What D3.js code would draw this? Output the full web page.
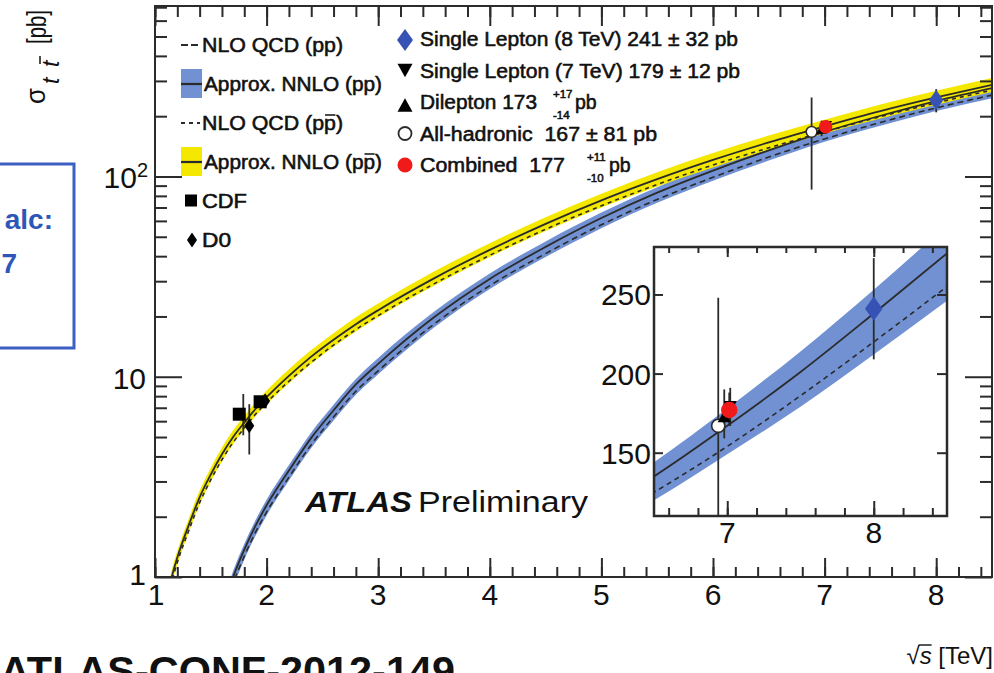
<!DOCTYPE html>
<html><head><meta charset="utf-8">
<script src="https://cdn.jsdelivr.net/npm/d3@7"></script>
<style>
html,body{margin:0;padding:0;background:#fff;overflow:hidden}
svg{display:block;font-family:"Liberation Sans",Arial,Helvetica,sans-serif}
.heavy{stroke:#111;stroke-width:0.55px}
</style></head><body>
<svg id="chart" width="994" height="673"></svg>
<script>
// ---- theory predictions: sqrt(s) in TeV, cross sections in pb ----
const energiesPPbar = [1.1, 1.15, 1.2, 1.3, 1.4, 1.5, 1.6, 1.7, 1.8, 1.9, 2.0, 2.2, 2.4, 2.6, 2.8, 3.0, 3.5, 4.0, 4.5, 5.0, 5.5, 6.0, 6.5, 7.0, 7.5, 8.0, 8.5];
const nnloPPbar     = [0.72, 1.0, 1.25, 1.8, 2.5, 3.25, 4.1, 5.0, 5.9, 6.9, 7.9, 10.1, 12.6, 15.3, 18.3, 21.5, 31, 43, 58, 76, 97, 121, 148, 178, 212, 248, 287];
const nnloPPbarUp   = [0.78, 1.08, 1.35, 1.94, 2.70, 3.51, 4.43, 5.40, 6.37, 7.45, 8.53, 10.9, 13.6, 16.5, 19.8, 23.2, 33.5, 46.4, 62.6, 82.1, 105, 131, 160, 192, 229, 268, 310];
const nnloPPbarDown = [0.66, 0.92, 1.15, 1.66, 2.30, 2.99, 3.77, 4.60, 5.43, 6.35, 7.27, 9.29, 11.6, 14.1, 16.8, 19.8, 28.5, 39.6, 53.4, 69.9, 89.2, 111, 136, 164, 195, 228, 264];
const nloPPbar      = [0.68, 0.94, 1.18, 1.69, 2.35, 3.06, 3.85, 4.70, 5.55, 6.49, 7.43, 9.49, 11.8, 14.4, 17.2, 20.2, 29.1, 40.4, 54.5, 71.4, 91.2, 114, 139, 167, 199, 233, 270];

const energiesPP = [1.6, 1.7, 1.8, 1.9, 2.0, 2.2, 2.4, 2.6, 2.8, 3.0, 3.5, 4.0, 4.5, 5.0, 5.5, 6.0, 6.5, 7.0, 7.5, 8.0, 8.5];
const nnloPP     = [0.68, 1.0, 1.37, 1.8, 2.28, 3.4, 4.95, 6.8, 9.15, 11.6, 19.8, 30.8, 44.5, 62, 83, 107, 135, 167, 201, 238, 276];
const nnloPPUp   = [0.72, 1.07, 1.46, 1.92, 2.43, 3.62, 5.27, 7.24, 9.74, 12.4, 21.1, 32.8, 47.4, 66.0, 88.4, 114, 144, 178, 214, 253, 294];
const nnloPPDown = [0.61, 0.89, 1.22, 1.60, 2.03, 3.03, 4.41, 6.05, 8.14, 10.3, 17.6, 27.4, 39.6, 55.2, 73.9, 95.2, 120, 149, 179, 212, 246];
const nloPP      = [0.63, 0.93, 1.27, 1.67, 2.11, 3.15, 4.58, 6.29, 8.46, 10.7, 18.3, 28.5, 41.2, 57.4, 76.8, 99.0, 125, 154, 186, 220, 255];

// ---- Tevatron measurements ----
const tevatronExperiments = ["CDF", "D0", "CDF", "D0"];
const tevatronEnergies    = [1.8, 1.8, 1.96, 1.96];
const tevatronXsec        = [6.5, 5.69, 7.5, 7.56];
const tevatronErrUp       = [1.7, 1.6, 0.48, 0.63];
const tevatronErrDown     = [1.4, 1.6, 0.48, 0.56];

// ---- ATLAS measurements ----
const atlasChannels = ["Single Lepton (8 TeV)", "Single Lepton (7 TeV)", "Dilepton", "All-hadronic", "Combined"];
const atlasEnergies = [8, 7, 7, 7, 7];
const atlasXsec     = [241, 179, 173, 167, 177];
const atlasErrUp    = [32, 12, 17, 81, 11];
const atlasErrDown  = [32, 12, 14, 81, 10];

// ---- axis ticks ----
const xTicksMain  = [1, 2, 3, 4, 5, 6, 7, 8];
const yTicksMain  = [1, 10, 100];
const xTicksInset = [7, 8];
const yTicksInset = [150, 200, 250];

// ---------------------------------------------------------------
const BLUE = "#7191d2", YELLOW = "#f4e800", INK = "#2b2b2b";
const svg = d3.select("#chart");
svg.append("rect").attr("width", 994).attr("height", 673).attr("fill", "#fff");

const P = {left: 155, right: 992, top: 6, bottom: 577};
const x = d3.scaleLinear().domain([1, 8.5]).range([P.left, P.right]);
const y = d3.scaleLog().domain([1, 710]).range([P.bottom, P.top]);

const defs = svg.append("defs");
defs.append("clipPath").attr("id", "clipMain").append("rect")
  .attr("x", P.left).attr("y", P.top).attr("width", P.right - P.left).attr("height", P.bottom - P.top);

const ppbar = energiesPPbar.map((e, i) => ({e, c: nnloPPbar[i], hi: nnloPPbarUp[i], lo: nnloPPbarDown[i], nlo: nloPPbar[i]}));
const pp = energiesPP.map((e, i) => ({e, c: nnloPP[i], hi: nnloPPUp[i], lo: nnloPPDown[i], nlo: nloPP[i]}));

// ---- fragments of the surrounding page ----
svg.append("rect").attr("x", -10).attr("y", 164).attr("width", 84).attr("height", 184)
  .attr("fill", "none").attr("stroke", "#3c5fc4").attr("stroke-width", 3);
svg.append("text").attr("x", 53).attr("y", 229).attr("text-anchor", "end")
  .attr("font-size", 28).attr("font-weight", "bold").attr("fill", "#2e56b8").text("alc:");
svg.append("text").attr("x", 17).attr("y", 273).attr("text-anchor", "end")
  .attr("font-size", 28).attr("font-weight", "bold").attr("fill", "#2e56b8").text("7");
svg.append("text").attr("x", 0).attr("y", 685)
  .attr("font-size", 40).attr("font-weight", "bold").attr("fill", "#111")
  .attr("textLength", 455).attr("lengthAdjust", "spacingAndGlyphs").text("ATLAS-CONF-2012-149");

// ---- main plot ----
const gMain = svg.append("g").attr("clip-path", "url(#clipMain)");
const areaMain = d3.area().x(d => x(d.e)).y0(d => y(d.lo)).y1(d => y(d.hi)).curve(d3.curveMonotoneX);
const lineMain = key => d3.line().x(d => x(d.e)).y(d => y(d[key])).curve(d3.curveMonotoneX);

gMain.append("path").datum(pp).attr("d", areaMain).attr("fill", BLUE);
gMain.append("path").datum(ppbar).attr("d", areaMain).attr("fill", YELLOW);
gMain.append("path").datum(pp).attr("d", lineMain("nlo")).attr("fill", "none").attr("stroke", INK).attr("stroke-width", 1.6).attr("stroke-dasharray", "6,4");
gMain.append("path").datum(pp).attr("d", lineMain("c")).attr("fill", "none").attr("stroke", INK).attr("stroke-width", 1.8);
gMain.append("path").datum(ppbar).attr("d", lineMain("nlo")).attr("fill", "none").attr("stroke", INK).attr("stroke-width", 1.6).attr("stroke-dasharray", "4,4");
gMain.append("path").datum(ppbar).attr("d", lineMain("c")).attr("fill", "none").attr("stroke", INK).attr("stroke-width", 1.8);

// marker helpers
function diamond(g, cx, cy, w, h, fill) {
  g.append("path").attr("d", `M${cx},${cy - h / 2}L${cx + w / 2},${cy}L${cx},${cy + h / 2}L${cx - w / 2},${cy}Z`).attr("fill", fill);
}
function triangle(g, cx, cy, s, down, fill) {
  const h = s * 0.9, k = down ? -1 : 1;
  g.append("path").attr("d", `M${cx},${cy - k * h / 2}L${cx + s / 2},${cy + k * h / 2}L${cx - s / 2},${cy + k * h / 2}Z`).attr("fill", fill);
}
function errBar(g, px, y0, y1) {
  g.append("line").attr("x1", px).attr("x2", px).attr("y1", y0).attr("y2", y1).attr("stroke", INK).attr("stroke-width", 1.8);
}

// Tevatron points (small horizontal offsets keep overlapping points apart)
const tevShift = [-5, 5, -2, 3];
tevatronEnergies.forEach((e, i) => {
  const px = x(e) + tevShift[i];
  errBar(gMain, px + (i === 0 ? 4 : 0), y(tevatronXsec[i] + tevatronErrUp[i]), y(tevatronXsec[i] - tevatronErrDown[i]));
});
tevatronEnergies.forEach((e, i) => {
  const px = x(e) + tevShift[i], py = y(tevatronXsec[i]);
  if (tevatronExperiments[i] === "CDF") gMain.append("rect").attr("x", px - 6.5).attr("y", py - 6.5).attr("width", 13).attr("height", 13).attr("fill", "#000");
  else diamond(gMain, px, py, 10, 15, "#000");
});

// ATLAS points
const atlasShiftMain = [0, 2, -3, -13, 1];
function drawAtlas(g, sx, sy, shift, scaleK) {
  atlasEnergies.forEach((e, i) => {
    errBar(g, sx(e) + shift[i], sy(atlasXsec[i] + atlasErrUp[i]), sy(atlasXsec[i] - atlasErrDown[i]));
  });
  const order = [3, 2, 1, 0, 4];
  order.forEach(i => {
    const px = sx(atlasEnergies[i]) + shift[i], py = sy(atlasXsec[i]);
    if (i === 0) diamond(g, px, py, 16 * scaleK, 22 * scaleK, "#3652b4");
    if (i === 1) triangle(g, px, py, 12 * scaleK, true, "#000");
    if (i === 2) triangle(g, px, py, 12 * scaleK, false, "#000");
    if (i === 3) g.append("circle").attr("cx", px).attr("cy", py).attr("r", 6 * scaleK).attr("fill", "#fff").attr("stroke", INK).attr("stroke-width", 1.6);
    if (i === 4) g.append("circle").attr("cx", px).attr("cy", py).attr("r", 7.5 * scaleK).attr("fill", "#f01a1a");
  });
}
drawAtlas(gMain, x, y, atlasShiftMain, 0.9);

// ---- main frame and ticks ----
function tickGroup(axis, tx, ty) {
  const g = svg.append("g").attr("transform", `translate(${tx},${ty})`).call(axis);
  g.select(".domain").remove();
  g.selectAll("text").remove();
  g.selectAll("line").attr("stroke", INK).attr("stroke-width", 2);
  return g;
}
const xMinorMain = d3.range(1, 8.5001, 0.2).map(v => +v.toFixed(1));
const yMinorMain = [];
yTicksMain.forEach(d => { for (let k = 2; k <= 9; k++) if (k * d <= 710) yMinorMain.push(k * d); });

tickGroup(d3.axisBottom(x).tickValues(xMinorMain).tickSize(-10), 0, P.bottom);
tickGroup(d3.axisBottom(x).tickValues(xTicksMain).tickSize(-19), 0, P.bottom);
tickGroup(d3.axisTop(x).tickValues(xMinorMain).tickSize(-11), 0, P.top);
tickGroup(d3.axisTop(x).tickValues(xTicksMain).tickSize(-20), 0, P.top);
tickGroup(d3.axisLeft(y).tickValues(yMinorMain).tickSize(-12), P.left, 0);
tickGroup(d3.axisLeft(y).tickValues(yTicksMain).tickSize(-27), P.left, 0);
tickGroup(d3.axisRight(y).tickValues(yMinorMain).tickSize(-12), P.right, 0);
tickGroup(d3.axisRight(y).tickValues(yTicksMain).tickSize(-27), P.right, 0);
svg.append("rect").attr("x", P.left).attr("y", P.top).attr("width", P.right - P.left).attr("height", P.bottom - P.top)
  .attr("fill", "none").attr("stroke", INK).attr("stroke-width", 2);

// tick labels
const TF = 30;
xTicksMain.forEach(v => {
  svg.append("text").attr("x", x(v) + (v === 1 ? 1 : 0)).attr("y", 605).attr("text-anchor", "middle")
    .attr("font-size", TF).attr("fill", "#111").text(v);
});
yTicksMain.forEach(v => {
  const t = svg.append("text").attr("x", v === 100 ? 148 : 146).attr("y", y(v) + (v === 1 ? 8 : 12))
    .attr("text-anchor", "end").attr("font-size", TF).attr("fill", "#111");
  if (v === 100) { t.append("tspan").text("10"); t.append("tspan").attr("font-size", 20).attr("dy", -11).text("2"); }
  else t.text(v);
});

// y title, written bottom-to-top: sigma, subscript t t-bar, unit
const rot = (tx, ty) => `translate(${tx},${ty}) rotate(-90)`;
svg.append("text").attr("transform", rot(45, 104)).attr("font-size", 28).attr("fill", "#111")
  .attr("textLength", 16).attr("lengthAdjust", "spacingAndGlyphs").text("σ");
svg.append("text").attr("transform", rot(59, 84)).attr("font-size", 23).attr("font-style", "italic").attr("fill", "#111").text("t");
svg.append("text").attr("transform", rot(59, 67)).attr("font-size", 23).attr("font-style", "italic").attr("fill", "#111").text("t");
svg.append("line").attr("x1", 40).attr("x2", 40).attr("y1", 56).attr("y2", 64).attr("stroke", "#111").attr("stroke-width", 1.5);
svg.append("text").attr("transform", rot(46, 44)).attr("font-size", 27).attr("fill", "#111")
  .attr("textLength", 34).attr("lengthAdjust", "spacingAndGlyphs").text("[pb]");

// x title
const xt = svg.append("text").attr("x", 993).attr("y", 664).attr("text-anchor", "end").attr("font-size", 24).attr("fill", "#111");
xt.append("tspan").text("√");
xt.append("tspan").attr("font-style", "italic").text("s");
xt.append("tspan").text(" [TeV]");
{ // radical bar over s
  const b = xt.node().getExtentOfChar(1);
  svg.append("line").attr("x1", b.x - 1).attr("x2", b.x + b.width).attr("y1", b.y + 3).attr("y2", b.y + 3).attr("stroke", "#111").attr("stroke-width", 1.4);
}

// overline helper: bar above one character of a text node
function overline(textSel, idx, dy, w) {
  const b = textSel.node().getExtentOfChar(idx);
  svg.append("line").attr("x1", b.x + 1).attr("x2", b.x + b.width - 0.5)
    .attr("y1", b.y + dy).attr("y2", b.y + dy).attr("stroke", "#111").attr("stroke-width", w || 1.4);
}

// ATLAS label
svg.append("text").attr("x", 305).attr("y", 512).attr("font-size", 29).attr("font-weight", "bold").attr("font-style", "italic")
  .attr("fill", "#111").attr("textLength", 107).attr("lengthAdjust", "spacingAndGlyphs").text("ATLAS");
svg.append("text").attr("x", 418).attr("y", 512).attr("font-size", 29).attr("fill", "#111")
  .attr("textLength", 170).attr("lengthAdjust", "spacingAndGlyphs").text("Preliminary");

// ---- left legend: theory and Tevatron ----
const LF = 19.5;
const leftLegend = [
  {kind: "dash", dash: "7,3", text: "NLO QCD (pp)", bar: -1, w: 141},
  {kind: "band", fill: BLUE, text: "Approx. NNLO (pp)", bar: -1, w: 178},
  {kind: "dash", dash: "4,4", text: "NLO QCD (pp)", bar: 10, w: 141},
  {kind: "band", fill: YELLOW, text: "Approx. NNLO (pp)", bar: 15, w: 178},
  {kind: "square", text: "CDF", bar: -1, w: 45},
  {kind: "diamond", text: "D0", bar: -1, w: 29}
];
leftLegend.forEach((d, i) => {
  const cy = 45 + 39 * i;
  if (d.kind === "dash") svg.append("line").attr("x1", 181).attr("x2", 200).attr("y1", cy).attr("y2", cy)
    .attr("stroke", INK).attr("stroke-width", 1.8).attr("stroke-dasharray", d.dash);
  if (d.kind === "band") {
    svg.append("rect").attr("x", 181).attr("y", cy - 15).attr("width", 21).attr("height", 29).attr("fill", d.fill);
    svg.append("line").attr("x1", 181).attr("x2", 202).attr("y1", cy).attr("y2", cy).attr("stroke", INK).attr("stroke-width", 2.2);
  }
  if (d.kind === "square") svg.append("rect").attr("x", 185).attr("y", cy - 6.5).attr("width", 12).attr("height", 12).attr("fill", "#000");
  if (d.kind === "diamond") diamond(svg, 192, cy, 10, 15, "#000");
  const tx = d.kind === "band" ? 204 : 202;
  const t = svg.append("text").attr("class", "heavy").attr("x", tx).attr("y", cy + 7).attr("font-size", LF).attr("fill", "#111")
    .attr("textLength", d.w).attr("lengthAdjust", "spacingAndGlyphs").text(d.text);
  if (d.bar >= 0) overline(t, d.bar, 3, 1.5);
});

// ---- right legend: ATLAS measurements ----
const rightWidths = [318, 320, 117, 237, 145];
atlasChannels.forEach((name, i) => {
  const cy = 39 + 31.5 * i;
  const mx = 405;
  if (i === 0) diamond(svg, mx, cy + 1, 16, 22, "#3652b4");
  if (i === 1) triangle(svg, mx, cy, 15, true, "#000");
  if (i === 2) triangle(svg, mx, cy + 3, 15, false, "#000");
  if (i === 3) svg.append("circle").attr("cx", mx).attr("cy", cy).attr("r", 6.5).attr("fill", "#fff").attr("stroke", INK).attr("stroke-width", 1.8);
  if (i === 4) svg.append("circle").attr("cx", mx).attr("cy", cy).attr("r", 7.5).attr("fill", "#f01a1a");
  const sym = atlasErrUp[i] === atlasErrDown[i];
  const gap = i >= 3 ? "  " : " ";
  const main = sym ? `${name}${gap}${atlasXsec[i]} ± ${atlasErrUp[i]} pb` : `${name}${gap}${atlasXsec[i]}`;
  svg.append("text").attr("class", "heavy").attr("x", 420).attr("y", cy + 7).attr("font-size", LF).attr("fill", "#111")
    .attr("textLength", rightWidths[i]).attr("lengthAdjust", "spacingAndGlyphs").style("white-space", "pre").text(main);
  if (!sym) {
    const ex = 420 + rightWidths[i] + (i === 2 ? 16 : 22);
    svg.append("text").attr("class", "heavy").attr("x", ex).attr("y", cy - 4).attr("font-size", 11.5).attr("fill", "#111").text(`+${atlasErrUp[i]}`);
    svg.append("text").attr("class", "heavy").attr("x", ex).attr("y", cy + 17).attr("font-size", 11.5).attr("fill", "#111").text(`-${atlasErrDown[i]}`);
    svg.append("text").attr("class", "heavy").attr("x", ex + 22).attr("y", cy + 7).attr("font-size", LF).attr("fill", "#111").text("pb");
  }
});

// ---- inset: zoom on the LHC energies ----
const I = {left: 654, right: 947, top: 247, bottom: 516};
const xi = d3.scaleLinear().domain([6.5, 8.5]).range([I.left, I.right]);
const yi = d3.scaleLinear().domain([110, 280]).range([I.bottom, I.top]);
defs.append("clipPath").attr("id", "clipInset").append("rect")
  .attr("x", I.left).attr("y", I.top).attr("width", I.right - I.left).attr("height", I.bottom - I.top);
svg.append("rect").attr("x", I.left).attr("y", I.top).attr("width", I.right - I.left).attr("height", I.bottom - I.top).attr("fill", "#fff");
const gIn = svg.append("g").attr("clip-path", "url(#clipInset)");
const ppInset = pp.filter(d => d.e >= 6.0);
const areaIn = d3.area().x(d => xi(d.e)).y0(d => yi(d.lo)).y1(d => yi(d.hi)).curve(d3.curveMonotoneX);
const lineIn = key => d3.line().x(d => xi(d.e)).y(d => yi(d[key])).curve(d3.curveMonotoneX);
gIn.append("path").datum(ppInset).attr("d", areaIn).attr("fill", BLUE);
gIn.append("path").datum(ppInset).attr("d", lineIn("nlo")).attr("fill", "none").attr("stroke", INK).attr("stroke-width", 1.6).attr("stroke-dasharray", "5,4");
gIn.append("path").datum(ppInset).attr("d", lineIn("c")).attr("fill", "none").attr("stroke", INK).attr("stroke-width", 1.8);
drawAtlas(gIn, xi, yi, [0, 3, -3, -9, 2], 1.1);

const xMinorIn = d3.range(6.6, 8.5, 0.2).map(v => +v.toFixed(1));
tickGroup(d3.axisBottom(xi).tickValues(xMinorIn).tickSize(-8), 0, I.bottom);
tickGroup(d3.axisBottom(xi).tickValues(xTicksInset).tickSize(-15), 0, I.bottom);
tickGroup(d3.axisTop(xi).tickValues(xMinorIn).tickSize(-6), 0, I.top);
tickGroup(d3.axisTop(xi).tickValues(xTicksInset).tickSize(-10), 0, I.top);
tickGroup(d3.axisLeft(yi).tickValues(yTicksInset).tickSize(-9), I.left, 0);
tickGroup(d3.axisRight(yi).tickValues(yTicksInset).tickSize(-10), I.right, 0);
svg.append("rect").attr("x", I.left).attr("y", I.top).attr("width", I.right - I.left).attr("height", I.bottom - I.top)
  .attr("fill", "none").attr("stroke", INK).attr("stroke-width", 2.5);
xTicksInset.forEach(v => svg.append("text").attr("x", xi(v)).attr("y", 543).attr("text-anchor", "middle").attr("font-size", TF).attr("fill", "#111").text(v));
yTicksInset.forEach(v => svg.append("text").attr("x", 651).attr("y", yi(v) + 11).attr("text-anchor", "end").attr("font-size", TF).attr("fill", "#111").text(v));
</script>
</body></html>
